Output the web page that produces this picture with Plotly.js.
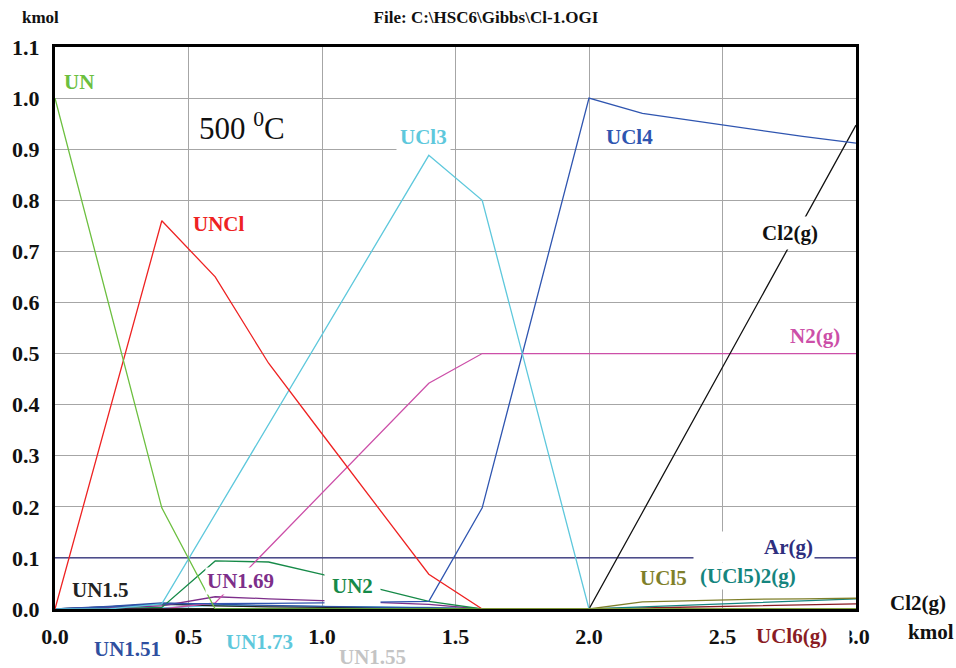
<!DOCTYPE html>
<html>
<head>
<meta charset="utf-8">
<script src="https://cdn.plot.ly/plotly-3.0.1.min.js"></script>
<style>html,body{margin:0;padding:0;background:#fff;}#chart{width:956px;height:668px;}</style>
</head>
<body>
<div id="chart"></div>
<script>
// Cl2 input (kmol)
const x = [0, 0.2, 0.4, 0.6, 0.8, 1.0, 1.2, 1.4, 1.6, 1.8, 2.0, 2.2, 2.4, 2.6, 2.8, 3.0];

const UN       = [1.0, 0.6, 0.198, 0.0, 0, 0, 0, 0, 0, 0, 0, 0, 0, 0, 0, 0];
const UNCl     = [0, 0.38, 0.76, 0.65, 0.481, 0.343, 0.205, 0.068, 0, 0, 0, 0, 0, 0, 0, 0];
const UCl3     = [0, 0, 0.01, 0.186, 0.361, 0.537, 0.712, 0.888, 0.80, 0.4, 0, 0, 0, 0, 0, 0];
const UCl4     = [0, 0.004, 0.01, 0.01, 0.011, 0.012, 0.013, 0.015, 0.198, 0.6, 1.0, 0.97, 0.955, 0.94, 0.925, 0.912];
const Cl2g     = [0, 0, 0, 0, 0, 0, 0, 0, 0, 0, 0, 0.189, 0.379, 0.568, 0.758, 0.947];
const N2g      = [0, 0, 0, 0.012, 0.12, 0.227, 0.335, 0.442, 0.5, 0.5, 0.5, 0.5, 0.5, 0.5, 0.5, 0.5];
const Arg      = [0.1, 0.1, 0.1, 0.1, 0.1, 0.1, 0.1, 0.1, 0.1, 0.1, 0.1, 0.1, 0.1, 0.1, 0.1, 0.1];
const UN2      = [0, 0, 0.003, 0.094, 0.092, 0.068, 0.041, 0.015, 0, 0, 0, 0, 0, 0, 0, 0];
const UN169    = [0, 0.002, 0.006, 0.024, 0.02, 0.017, 0.013, 0.009, 0, 0, 0, 0, 0, 0, 0, 0];
const UN15     = [0, 0.004, 0.01, 0.006, 0.004, 0.003, 0.002, 0.001, 0, 0, 0, 0, 0, 0, 0, 0];
const UN151    = [0, 0.005, 0.012, 0.009, 0.007, 0.005, 0.004, 0.002, 0, 0, 0, 0, 0, 0, 0, 0];
const UN173    = [0, 0, 0.002, 0.007, 0.006, 0.005, 0.004, 0.003, 0, 0, 0, 0, 0, 0, 0, 0];
const UN155    = [0, 0.003, 0.007, 0.008, 0.006, 0.005, 0.003, 0.002, 0, 0, 0, 0, 0, 0, 0, 0];
const UCl5     = [0, 0, 0, 0, 0, 0, 0, 0, 0, 0, 0, 0.014, 0.017, 0.019, 0.02, 0.021];
const UCl5_2g  = [0, 0, 0, 0, 0, 0, 0, 0, 0, 0, 0, 0.004, 0.008, 0.012, 0.016, 0.02];
const UCl6g    = [0, 0, 0, 0, 0, 0, 0, 0, 0, 0, 0, 0.002, 0.004, 0.006, 0.008, 0.01];

const xTicks = [0, 0.5, 1.0, 1.5, 2.0, 2.5, 3.0];
const xTickText = ["0.0", "0.5", "1.0", "1.5", "2.0", "2.5", "3.0"];
const yTicks = [0, 0.1, 0.2, 0.3, 0.4, 0.5, 0.6, 0.7, 0.8, 0.9, 1.0, 1.1];
const yTickText = ["0.0", "0.1", "0.2", "0.3", "0.4", "0.5", "0.6", "0.7", "0.8", "0.9", "1.0", "1.1"];

const series = [
  ["Ar(g)", Arg, "#2e2e7e"],
  ["UN1.55", UN155, "#c4c4c4"],
  ["UN1.73", UN173, "#5ec8dc"],
  ["UN1.5", UN15, "#222222"],
  ["UN1.51", UN151, "#2f4fa0"],
  ["UN1.69", UN169, "#7d2e8a"],
  ["UN2", UN2, "#168a48"],
  ["UCl6(g)", UCl6g, "#8a1c24"],
  ["(UCl5)2(g)", UCl5_2g, "#15857e"],
  ["UCl5", UCl5, "#7f7f2a"],
  ["N2(g)", N2g, "#cc4fa8"],
  ["Cl2(g)", Cl2g, "#111111"],
  ["UCl4", UCl4, "#2f55b0"],
  ["UCl3", UCl3, "#5ec8dc"],
  ["UNCl", UNCl, "#ee2222"],
  ["UN", UN, "#6cbf3f"]
];

const traces = series.map(s => ({
  x: x, y: s[1], name: s[0], type: "scatter", mode: "lines",
  line: {color: s[2], width: 1.3}, cliponaxis: true, hoverinfo: "skip"
}));

const F = "Liberation Serif, Times New Roman, serif";
function lab(text, xx, yy, color, opts) {
  return Object.assign({
    text: "<b>" + text + "</b>", x: xx, y: yy, xref: "x", yref: "y",
    showarrow: false, font: {family: F, size: 21, color: color},
    xanchor: "center", yanchor: "middle"
  }, opts || {});
}
function plab(text, xx, yy, color, opts) {
  return lab(text, xx, yy, color, Object.assign({xref: "paper", yref: "paper"}, opts || {}));
}

const annotations = [
  lab("UN", 0.026, 1.031, "#6cbf3f", {xanchor: "left", bgcolor: "#ffffff"}),
  {text: "500 <sup>0</sup>C", x: 0.70, y: 0.945, xref: "x", yref: "y", showarrow: false,
   font: {family: F, size: 31, color: "#111111"}},
  lab("UCl3", 1.382, 0.924, "#5ec8dc", {bgcolor: "#ffffff", borderpad: 3}),
  lab("UCl4", 2.15, 0.924, "#2f55b0"),
  lab("UNCl", 0.614, 0.753, "#ee2222"),
  lab("Cl2(g)", 2.754, 0.736, "#111111", {bgcolor: "#ffffff", borderpad: 4}),
  lab("N2(g)", 2.847, 0.534, "#cc4fa8"),
  lab("Ar(g)", 2.618, 0.122, "#2e2e7e", {bgcolor: "#ffffff", width: 118, height: 28, align: "right"}),
  lab("UCl5", 2.278, 0.061, "#7f7f2a", {bgcolor: "#ffffff"}),
  lab("(UCl5)2(g)", 2.596, 0.065, "#15857e", {bgcolor: "#ffffff"}),
  lab("UN1.5", 0.169, 0.037, "#222222"),
  lab("UN1.69", 0.693, 0.055, "#7d2e8a", {bgcolor: "#ffffff"}),
  lab("UN2", 1.113, 0.045, "#168a48", {bgcolor: "#ffffff", borderpad: 7}),
  plab("Cl2(g)", 1.0774, 0.0107, "#111111"),
  plab("kmol", 1.0936, -0.0409, "#111111"),
  plab("UN1.51", 0.0899, -0.0712, "#2f4fa0"),
  plab("UN1.73", 0.2547, -0.0587, "#5ec8dc"),
  plab("UN1.55", 0.397, -0.0854, "#c4c4c4"),
  plab("UCl6(g)", 0.9326, -0.048, "#8a1c24", {bgcolor: "#ffffff", width: 92, align: "left"}),
  {text: "<b>kmol</b>", x: -0.0175, y: 1.053, xref: "paper", yref: "paper", showarrow: false,
   font: {family: F, size: 17, color: "#111111"}, xanchor: "center", yanchor: "middle"}
];

const layout = {
  width: 956, height: 668,
  margin: {l: 55, r: 100, t: 47, b: 59, pad: 0},
  paper_bgcolor: "#ffffff", plot_bgcolor: "#ffffff",
  showlegend: false,
  title: {text: "<b>File: C:\\HSC6\\Gibbs\\Cl-1.OGI</b>", x: 486/956, xref: "container", xanchor: "center",
          y: 1 - 17/668, yref: "container", yanchor: "middle",
          font: {family: F, size: 17, color: "#111111"}},
  xaxis: {range: [0, 3], tickvals: xTicks, ticktext: xTickText, showgrid: true,
          gridcolor: "#a6a6a6", gridwidth: 1, zeroline: false, showline: true, linecolor: "#000000",
          linewidth: 3, mirror: true, ticks: "", ticklabelstandoff: 6,
          tickfont: {family: F, size: 22, color: "#111111", weight: "bold"}},
  yaxis: {range: [0, 1.1], tickvals: yTicks, ticktext: yTickText, showgrid: true,
          gridcolor: "#a6a6a6", gridwidth: 1, zeroline: false, showline: true, linecolor: "#000000",
          linewidth: 3, mirror: true, ticks: "", ticklabelstandoff: 8,
          tickfont: {family: F, size: 22, color: "#111111", weight: "bold"}},
  annotations: annotations
};

Plotly.newPlot("chart", traces, layout, {displayModeBar: false, staticPlot: true});
</script>
</body>
</html>
